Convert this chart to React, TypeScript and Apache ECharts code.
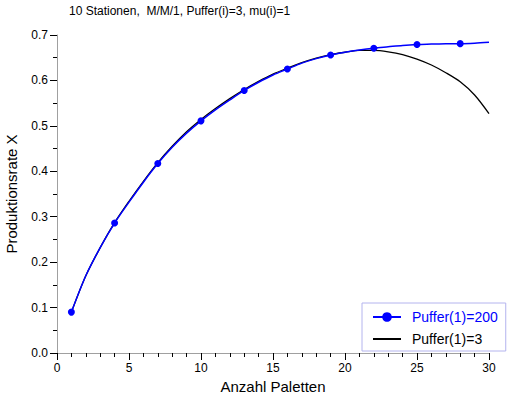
import React, { useEffect, useRef } from "react";
import * as echarts from "echarts";

const titleText = "10 Stationen,  M/M/1, Puffer(i)=3, mu(i)=1";
const xName = "Anzahl Paletten";
const yName = "Produktionsrate X";
const seriesNames = ["Puffer(1)=200", "Puffer(1)=3"];

const paletten = [1, 2, 3, 4, 5, 6, 7, 8, 9, 10, 11, 12, 13, 14, 15, 16, 17, 18, 19, 20, 21, 22, 23, 24, 25, 26, 27, 28, 29, 30];
const rate200 = [0.090, 0.170, 0.232, 0.286, 0.332, 0.376, 0.417, 0.453, 0.484, 0.511, 0.535, 0.557, 0.578, 0.596, 0.612, 0.625, 0.638, 0.648, 0.656, 0.662, 0.667, 0.671, 0.674, 0.677, 0.679, 0.680, 0.681, 0.681, 0.682, 0.684];
const rate3 = [0.090, 0.170, 0.232, 0.287, 0.334, 0.378, 0.419, 0.455, 0.487, 0.514, 0.538, 0.560, 0.580, 0.598, 0.614, 0.627, 0.639, 0.649, 0.657, 0.662, 0.666, 0.666, 0.663, 0.657, 0.647, 0.634, 0.617, 0.597, 0.568, 0.527];
const markerX = [1, 4, 7, 10, 13, 16, 19, 22, 25, 28];

const FONT = "'Liberation Sans', Arial, sans-serif";

export default function App() {
  const ref = useRef<HTMLDivElement>(null);
  useEffect(() => {
    if (!ref.current) return;
    const chart = echarts.init(ref.current, null, { renderer: "svg" });
    const blueData = paletten.map((x, i) => ({
      value: [x, rate200[i]],
      symbol: markerX.includes(x) ? "circle" : "none",
    }));
    const blackData = paletten.map((x, i) => [x, rate3[i]]);
    chart.setOption({
      animation: false,
      backgroundColor: "#ffffff",
      textStyle: { fontFamily: FONT },
      title: {
        text: titleText,
        left: 69,
        top: 5,
        padding: 0,
        textStyle: { fontSize: 12, fontWeight: "normal", color: "#000", fontFamily: FONT },
      },
      legend: {
        orient: "vertical",
        left: 362,
        top: 303,
        width: 145,
        padding: [7, 8, 5, 10],
        itemGap: 8,
        itemWidth: 28,
        itemHeight: 12,
        borderColor: "#b4b4ee",
        borderWidth: 1,
        backgroundColor: "#fff",
        textStyle: { fontSize: 14, fontFamily: FONT, padding: [0, 0, 0, 6] },
        data: [
          { name: seriesNames[0], textStyle: { color: "#0000ff" } },
          {
            name: seriesNames[1],
            textStyle: { color: "#000000" },
            itemStyle: { color: "rgba(0,0,0,0)", borderColor: "rgba(0,0,0,0)", borderWidth: 0 },
          },
        ],
      },
      grid: { left: 57, right: 20, top: 35, bottom: 44, containLabel: false, outerBoundsMode: "none" },
      xAxis: {
        type: "value",
        min: 0,
        max: 30,
        interval: 5,
        name: xName,
        nameLocation: "middle",
        nameGap: 23,
        nameTextStyle: { fontSize: 15, color: "#000", fontFamily: FONT },
        axisLine: { show: true, onZero: false, lineStyle: { color: "#a0a0a0", width: 1 } },
        axisTick: { show: true, length: 7, lineStyle: { color: "#000", width: 1 } },
        minorTick: { show: true, splitNumber: 5, length: 4, lineStyle: { color: "#000", width: 1 } },
        axisLabel: { fontSize: 12, color: "#000", margin: 9, fontFamily: FONT },
        splitLine: { show: false },
      },
      yAxis: {
        type: "value",
        min: 0,
        max: 0.7,
        interval: 0.1,
        name: yName,
        nameLocation: "middle",
        nameGap: 38,
        nameTextStyle: { fontSize: 15, color: "#000", fontFamily: FONT },
        axisLine: { show: true, onZero: false, lineStyle: { color: "#a0a0a0", width: 1 } },
        axisTick: { show: true, length: 7, lineStyle: { color: "#000", width: 1 } },
        minorTick: { show: true, splitNumber: 2, length: 4, lineStyle: { color: "#000", width: 1 } },
        axisLabel: {
          fontSize: 12,
          color: "#000",
          margin: 9,
          fontFamily: FONT,
          formatter: (v: number) => v.toFixed(1),
        },
        splitLine: { show: false },
      },
      series: [
        {
          name: seriesNames[1],
          type: "line",
          data: blackData,
          showSymbol: false,
          symbol: "none",
          smooth: 0.3,
          lineStyle: { color: "#000", width: 1.3 },
          itemStyle: { color: "#000" },
          z: 2,
        },
        {
          name: seriesNames[0],
          type: "line",
          data: blueData,
          symbol: "circle",
          symbolSize: 7,
          showAllSymbol: true,
          smooth: 0.3,
          lineStyle: { color: "#0000ff", width: 1.5 },
          itemStyle: { color: "#0000ff" },
          z: 3,
        },
      ],
    });
    return () => chart.dispose();
  }, []);
  return (
    <div
      ref={ref}
      style={{ position: "fixed", left: 0, top: 0, width: 509, height: 397, background: "#fff" }}
    />
  );
}
